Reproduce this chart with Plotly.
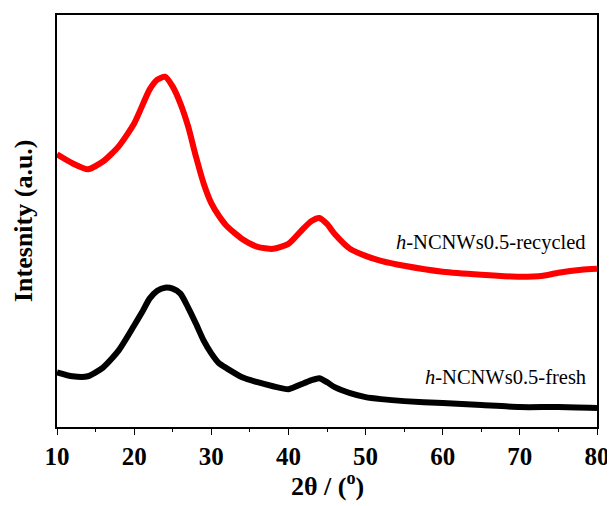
import plotly.graph_objects as go

# 2-theta positions (degrees) for the recycled sample
red_x = [10, 12, 14, 16, 18, 20, 22, 23, 24, 25, 26, 27, 28, 29, 30, 31, 32, 34, 36, 38,
         40, 42, 43, 44, 45, 46, 48, 50, 52, 55, 60, 65, 70, 73, 75, 78, 80]
# recycled sample intensity (a.u., offset)
recycled = [274, 265, 259, 267, 282, 305, 339, 349, 352, 342, 325, 302, 272, 245, 225,
            212, 202, 189, 181, 179, 184, 200, 207, 210, 204, 194, 179, 172, 167, 162,
            156, 153, 151, 152, 155, 158, 159]

# 2-theta positions (degrees) for the fresh sample
black_x = [10, 12, 14, 16, 18, 20, 21, 22, 23, 24, 25, 26, 27, 28, 29, 30, 31, 32, 34, 36,
           38, 40, 42, 43, 44, 45, 46, 48, 50, 52, 55, 60, 65, 70, 75, 80]
# fresh sample intensity (a.u.)
fresh = [55, 51, 51, 60, 77, 102, 115, 129, 137, 140, 139, 134, 120, 104, 87, 74, 64, 59,
         50, 45, 41, 38, 44, 47, 49, 45, 40, 34, 30, 28, 26, 24, 22, 20, 20, 19]

tick_vals = [10, 20, 30, 40, 50, 60, 70, 80]

FONT = "Liberation Serif"

fig = go.Figure()
fig.add_trace(go.Scatter(x=red_x, y=recycled, mode="lines",
                         line=dict(color="#ff0000", width=6, shape="spline", smoothing=0.6),
                         showlegend=False))
fig.add_trace(go.Scatter(x=black_x, y=fresh, mode="lines",
                         line=dict(color="#000000", width=6, shape="spline", smoothing=0.6),
                         showlegend=False))

# the page body adds an 8px offset; the figure is sized to fit inside the 615x506 window
fig.update_layout(
    width=607, height=498,
    margin=dict(l=49, r=16, t=5, b=79),
    paper_bgcolor="white", plot_bgcolor="white",
    font=dict(family=FONT, color="black"),
    xaxis=dict(range=[10, 80], tickvals=tick_vals, ticktext=[str(v) for v in tick_vals],
               ticks="outside", ticklen=6, tickwidth=1.3, tickcolor="black",
               minor=dict(dtick=5, tick0=10, ticks="outside", ticklen=3, tickwidth=1.3, tickcolor="black"),
               showline=True, linecolor="black", linewidth=1.5, mirror=True,
               showgrid=False, zeroline=False,
               tickfont=dict(family=FONT, size=25, color="black", weight="bold")),
    yaxis=dict(range=[0, 414], showticklabels=False, ticks="",
               showline=True, linecolor="black", linewidth=1.5, mirror=True,
               showgrid=False, zeroline=False),
    annotations=[
        dict(text="<b>2θ / (<sup>o</sup>)</b>", xref="paper", yref="paper", x=0.5, y=0,
             xanchor="center", yanchor="middle", yshift=-57, showarrow=False,
             font=dict(family=FONT, size=26, color="black")),
        dict(text="<b>Intesnity (a.u.)</b>", xref="paper", yref="paper", x=0, y=0.5,
             xanchor="center", yanchor="middle", xshift=-34, textangle=-90, showarrow=False,
             font=dict(family=FONT, size=26, color="black")),
        dict(text="<i>h</i>-NCNWs0.5-recycled", xref="paper", yref="paper", x=1, y=0,
             xanchor="right", yanchor="middle", xshift=-9, yshift=427 - 242, showarrow=False,
             font=dict(family=FONT, size=20.5, color="black")),
        dict(text="<i>h</i>-NCNWs0.5-fresh", xref="paper", yref="paper", x=1, y=0,
             xanchor="right", yanchor="middle", xshift=-9, yshift=427 - 377, showarrow=False,
             font=dict(family=FONT, size=20.5, color="black")),
    ],
)

fig.write_html("out.html")
